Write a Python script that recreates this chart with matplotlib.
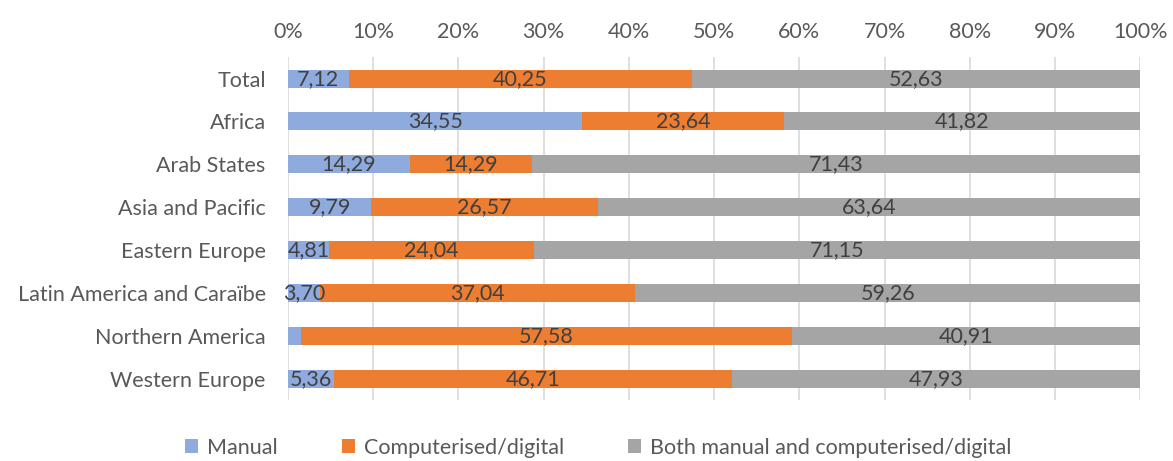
import matplotlib.pyplot as plt
import numpy as np

regions = ['Total', 'Africa', 'Arab States', 'Asia and Pacific', 'Eastern Europe',
           'Latin America and Caraïbe', 'Northern America', 'Western Europe']
manual = [7.12, 34.55, 14.29, 9.79, 4.81, 3.70, 1.51, 5.36]
digital = [40.25, 23.64, 14.29, 26.57, 24.04, 37.04, 57.58, 46.71]
both = [52.63, 41.82, 71.43, 63.64, 71.15, 59.26, 40.91, 47.93]
show_manual = [True, True, True, True, True, True, False, True]

plt.rcParams['font.family'] = ['Lato', 'DejaVu Sans']

fig = plt.figure(figsize=(11.73, 4.61), dpi=100)
ax = fig.add_axes([0.2455, 0.132, 0.7265, 0.744])

y = np.arange(len(regions))
m = np.array(manual)
d = np.array(digital)
b = np.array(both)
h = 0.42
fs = 15.5

b1 = ax.barh(y, m, height=h, color='#8FAADC', label='Manual', zorder=3)
b2 = ax.barh(y, d, left=m, height=h, color='#ED7D31', label='Computerised/digital', zorder=3)
b3 = ax.barh(y, b, left=m + d, height=h, color='#A5A5A5',
             label='Both manual and computerised/digital', zorder=3)

def fmt(v):
    return f'{v:.2f}'.replace('.', ',')

for i in range(len(regions)):
    if show_manual[i]:
        ax.text(m[i] / 2, y[i], fmt(m[i]), ha='center', va='center',
                fontsize=fs, color='#404040', zorder=4)
    ax.text(m[i] + d[i] / 2, y[i], fmt(d[i]), ha='center', va='center',
            fontsize=fs, color='#404040', zorder=4)
    ax.text(m[i] + d[i] + b[i] / 2, y[i], fmt(b[i]), ha='center', va='center',
            fontsize=fs, color='#404040', zorder=4)

ax.set_xlim(0, 100)
ax.set_ylim(len(regions) - 0.5, -0.5)
ax.set_yticks(y)
ax.set_yticklabels(regions)
ax.set_xticks(np.arange(0, 101, 10))
ax.set_xticklabels([f'{v}%' for v in range(0, 101, 10)])
ax.xaxis.tick_top()
ax.tick_params(axis='both', length=0, labelsize=fs, colors='#595959')
ax.tick_params(axis='x', pad=11)
ax.tick_params(axis='y', pad=16)
ax.grid(axis='x', color='#D9D9D9', linewidth=1.2, zorder=0)
for s in ax.spines.values():
    s.set_visible(False)

fig.legend(handles=[b1, b2, b3], loc='lower center', bbox_to_anchor=(0.51, -0.035),
           ncol=3, frameon=False, fontsize=fs, handlelength=0.6, handleheight=0.6,
           columnspacing=3.0, handletextpad=0.4, labelcolor='#595959')

fig.savefig('out.png', dpi=100)
